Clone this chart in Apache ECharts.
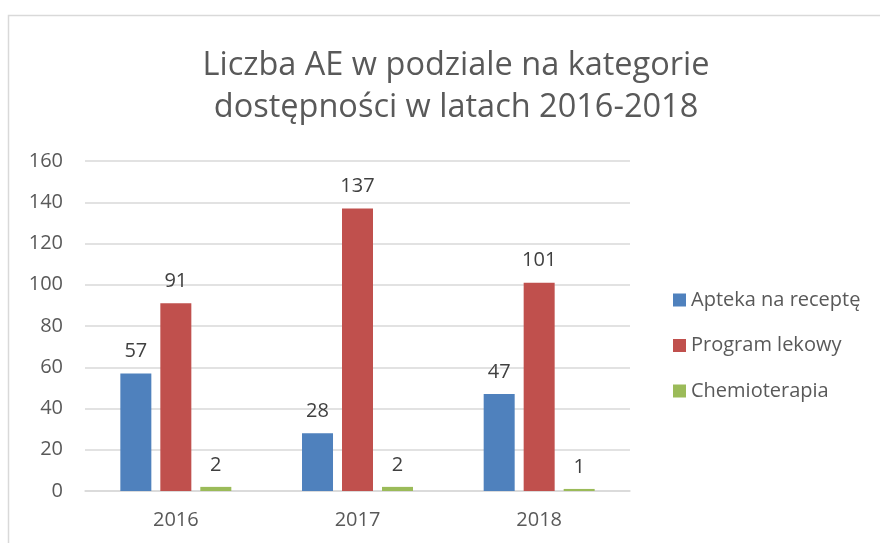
<!DOCTYPE html>
<html><head><meta charset="utf-8">
<script src="https://cdn.jsdelivr.net/npm/echarts@6/dist/echarts.min.js"></script>
<style>html,body{margin:0;padding:0;background:#fff}#c{width:880px;height:543px}</style>
</head><body><div id="c"></div>
<script>
const categories = ['2016', '2017', '2018'];
const apteka = [57, 28, 47];
const program = [91, 137, 101];
const chemio = [2, 2, 1];
const seriesNames = ['Apteka na receptę', 'Program lekowy', 'Chemioterapia'];
const colors = ['#4F81BD', '#C0504D', '#9BBB59'];
const yTicks = [0, 20, 40, 60, 80, 100, 120, 140, 160];

const chart = echarts.init(document.getElementById('c'));
const font = '"Open Sans", "Noto Sans", sans-serif';
const label = {show: true, position: 'top', distance: 12, color: '#404040', fontSize: 20, fontFamily: font};
function mk(name, data, i) {
  return {name, type: 'bar', data, barWidth: 31, barGap: '29%', itemStyle: {color: colors[i]}, label};
}
chart.setOption({
  animation: false,
  graphic: [{type: 'rect', shape: {x: 8.5, y: 15.5, width: 900, height: 600}, style: {fill: 'none', stroke: '#d9d9d9', lineWidth: 1.5}, z: -1}],
  title: {
    text: 'Liczba AE w podziale na kategorie\ndostępności w latach 2016-2018',
    left: 451, top: 40, textAlign: 'center',
    textStyle: {fontFamily: font, fontSize: 32.5, fontWeight: 'normal', color: '#595959', lineHeight: 42}
  },
  legend: {
    orient: 'vertical', left: 668, top: 285, itemWidth: 13, itemHeight: 13, itemGap: 25.5,
    icon: 'rect',
    textStyle: {fontFamily: font, fontSize: 20, lineHeight: 20, color: '#595959'},
    data: seriesNames
  },
  grid: {left: 85, top: 161, width: 545, height: 330, containLabel: false},
  xAxis: {
    type: 'category', data: categories,
    axisLine: {lineStyle: {color: '#d9d9d9', width: 1.5}}, axisTick: {show: false},
    axisLabel: {fontFamily: font, fontSize: 20, color: '#595959', margin: 19}
  },
  yAxis: {
    type: 'value', min: yTicks[0], max: yTicks[yTicks.length - 1], interval: 20,
    axisLine: {show: false}, axisTick: {show: false},
    splitLine: {lineStyle: {color: '#d9d9d9', width: 1.5}},
    axisLabel: {fontFamily: font, fontSize: 20, color: '#595959', margin: 22}
  },
  series: [mk(seriesNames[0], apteka, 0), mk(seriesNames[1], program, 1), mk(seriesNames[2], chemio, 2)]
});
</script></body></html>
